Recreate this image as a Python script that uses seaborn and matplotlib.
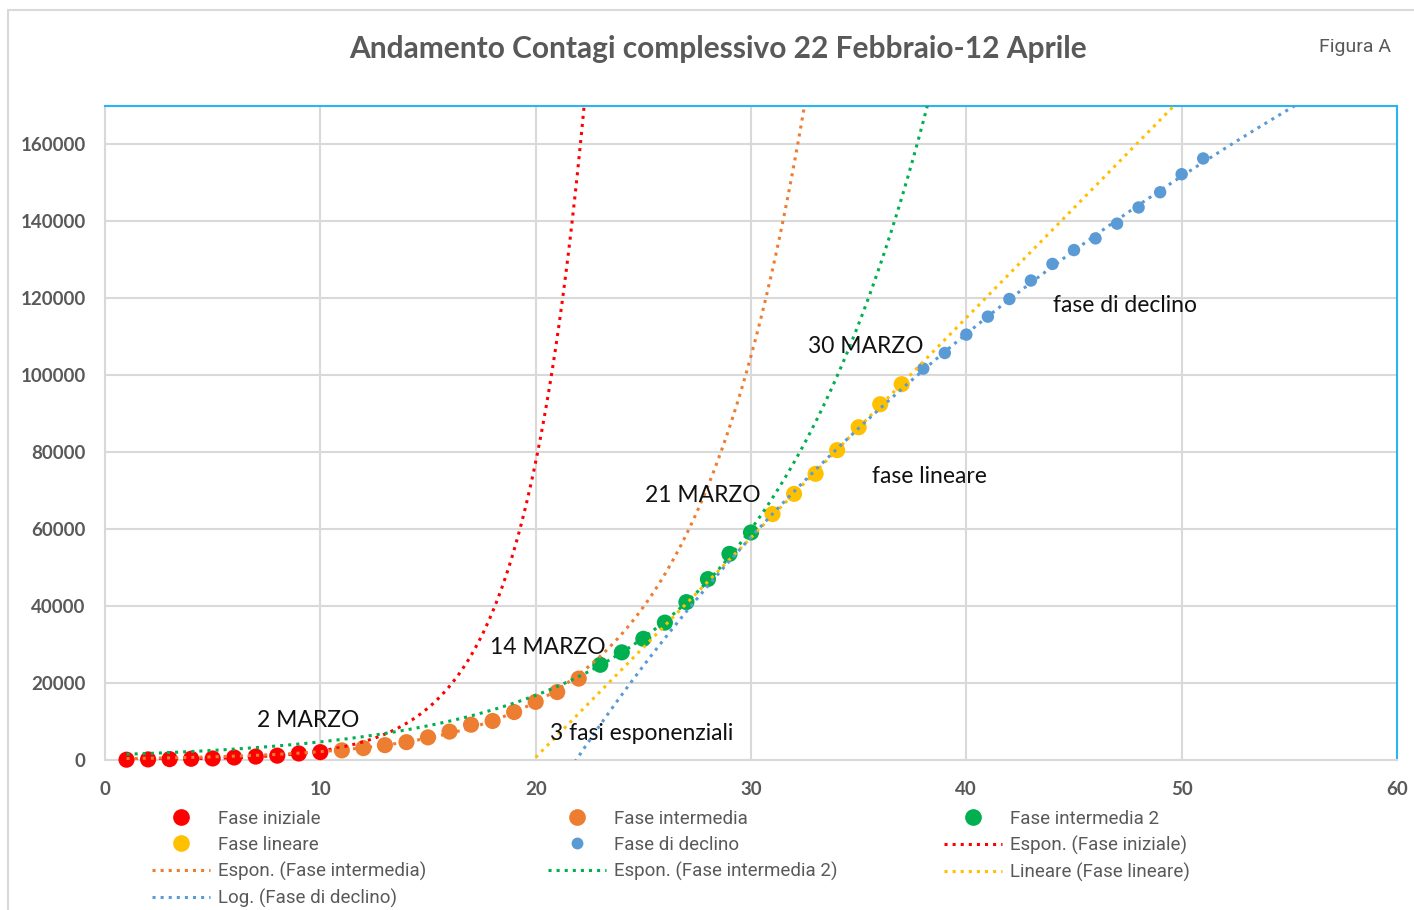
import numpy as np
import pandas as pd
import matplotlib
matplotlib.use('Agg')
import matplotlib.pyplot as plt
import seaborn as sns
from matplotlib.lines import Line2D
from matplotlib.patches import Rectangle

# Contagi cumulativi, giorno 1 = 22 febbraio
giorni_iniziale = [1, 2, 3, 4, 5, 6, 7, 8, 9, 10]
contagi_iniziale = [79, 152, 229, 322, 400, 650, 888, 1128, 1694, 2036]

giorni_intermedia = [11, 12, 13, 14, 15, 16, 17, 18, 19, 20, 21, 22]
contagi_intermedia = [2502, 3089, 3858, 4636, 5883, 7375, 9172, 10149, 12462, 15113, 17660, 21157]

giorni_intermedia2 = [23, 24, 25, 26, 27, 28, 29, 30]
contagi_intermedia2 = [24747, 27980, 31506, 35713, 41035, 47021, 53578, 59138]

giorni_lineare = [31, 32, 33, 34, 35, 36, 37]
contagi_lineare = [63927, 69176, 74386, 80539, 86498, 92472, 97689]

giorni_declino = [38, 39, 40, 41, 42, 43, 44, 45, 46, 47, 48, 49, 50, 51]
contagi_declino = [101739, 105792, 110574, 115242, 119827, 124632, 128948,
                   132547, 135586, 139422, 143626, 147577, 152271, 156363]

fasi = ['Fase iniziale', 'Fase intermedia', 'Fase intermedia 2', 'Fase lineare', 'Fase di declino']
colori = {'Fase iniziale': '#FF0000', 'Fase intermedia': '#ED7D31', 'Fase intermedia 2': '#00B050',
          'Fase lineare': '#FFC000', 'Fase di declino': '#5B9BD5'}

annotazioni = [('2 MARZO', 7.06, 10150), ('14 MARZO', 17.88, 29140), ('21 MARZO', 25.08, 68680),
               ('30 MARZO', 32.65, 107450), ('fase lineare', 35.62, 73630),
               ('fase di declino', 44.02, 118110), ('3 fasi esponenziali', 20.67, 6760)]

df = pd.concat([
    pd.DataFrame({'Giorno': giorni_iniziale, 'Contagi': contagi_iniziale, 'Fase': 'Fase iniziale'}),
    pd.DataFrame({'Giorno': giorni_intermedia, 'Contagi': contagi_intermedia, 'Fase': 'Fase intermedia'}),
    pd.DataFrame({'Giorno': giorni_intermedia2, 'Contagi': contagi_intermedia2, 'Fase': 'Fase intermedia 2'}),
    pd.DataFrame({'Giorno': giorni_lineare, 'Contagi': contagi_lineare, 'Fase': 'Fase lineare'}),
    pd.DataFrame({'Giorno': giorni_declino, 'Contagi': contagi_declino, 'Fase': 'Fase di declino'}),
], ignore_index=True)

sns.set_style('white')
plt.rcParams['font.family'] = ['Lato', 'DejaVu Sans']

fig = plt.figure(figsize=(14.14, 9.10), dpi=100)
ax = fig.add_axes([105 / 1414, 150 / 910, 1292 / 1414, 654 / 910])

# bordo esterno del grafico
fig.patches.append(Rectangle((8 / 1414, -0.05), 1.2, 0.05 + 1 - 10 / 910, transform=fig.transFigure,
                             fill=False, edgecolor='#d9d9d9', linewidth=1.5))

# punti
for fase in fasi:
    sub = df[df['Fase'] == fase]
    size = 80 if fase == 'Fase di declino' else 135
    sns.scatterplot(data=sub, x='Giorno', y='Contagi', color=colori[fase], s=size,
                    edgecolor='none', ax=ax, clip_on=False, zorder=3)

# linee di tendenza (stesse regressioni di Excel)
def espon(x, y, xs):
    b, a = np.polyfit(x, np.log(y), 1)
    return np.exp(a + b * xs)

xs = np.linspace(1, 23, 300)
ax.plot(xs, espon(giorni_iniziale, contagi_iniziale, xs), ':', color=colori['Fase iniziale'], lw=2.2, zorder=4)
xs = np.linspace(1, 34, 300)
ax.plot(xs, espon(giorni_intermedia, contagi_intermedia, xs), ':', color=colori['Fase intermedia'], lw=2.2, zorder=4)
xs = np.linspace(1, 40, 300)
ax.plot(xs, espon(giorni_intermedia2, contagi_intermedia2, xs), ':', color=colori['Fase intermedia 2'], lw=2.2, zorder=4)
xs = np.linspace(15, 55, 300)
m, q = np.polyfit(giorni_lineare, contagi_lineare, 1)
ax.plot(xs, m * xs + q, ':', color=colori['Fase lineare'], lw=2.2, zorder=4)
xs = np.linspace(20, 60, 300)
m, q = np.polyfit(np.log(giorni_declino), contagi_declino, 1)
ax.plot(xs, m * np.log(xs) + q, ':', color=colori['Fase di declino'], lw=2.2, zorder=4)

ax.set_xlim(0, 60)
ax.set_ylim(0, 170000)
ax.set_xticks(range(0, 61, 10))
ax.set_yticks(range(0, 160001, 20000))
ax.grid(True, color='#d9d9d9', linewidth=1.5)
ax.set_axisbelow(True)
ax.tick_params(length=0, labelsize=13.5, labelcolor='#595959')
ax.tick_params(axis='x', pad=15)
ax.tick_params(axis='y', pad=14)
for lab in ax.get_xticklabels() + ax.get_yticklabels():
    lab.set_fontweight('bold')
ax.set_xlabel('')
ax.set_ylabel('')
for s in ['left', 'bottom']:
    ax.spines[s].set_color('#d9d9d9')
    ax.spines[s].set_linewidth(1.5)
for s in ['top', 'right']:
    ax.spines[s].set_color('#29B6F0')
    ax.spines[s].set_linewidth(1.5)

for testo, x, y in annotazioni:
    ax.text(x, y, testo, fontsize=16.5, color='#111111', va='center', ha='left', zorder=5)

fig.text(718 / 1414, 1 - 49 / 910, 'Andamento Contagi complessivo 22 Febbraio-12 Aprile',
         ha='center', va='center', fontsize=21.5, fontweight='bold', color='#595959')
fig.text(1391 / 1414, 1 - 47 / 910, 'Figura A', ha='right', va='center', fontsize=14,
         color='#595959', family=['Roboto', 'DejaVu Sans'])

# legenda su tre colonne
def punto(fase, ms):
    return Line2D([], [], linestyle='none', marker='o', markersize=ms, color=colori[fase])

def linea(fase):
    return Line2D([], [], linestyle=':', lw=2.2, color=colori[fase])

colonne = [
    ([punto('Fase iniziale', 11), punto('Fase lineare', 11), linea('Fase intermedia'), linea('Fase di declino')],
     ['Fase iniziale', 'Fase lineare', 'Espon. (Fase intermedia)', 'Log. (Fase di declino)'], 152),
    ([punto('Fase intermedia', 11), punto('Fase di declino', 7.5), linea('Fase intermedia 2')],
     ['Fase intermedia', 'Fase di declino', 'Espon. (Fase intermedia 2)'], 548),
    ([punto('Fase intermedia 2', 11), linea('Fase iniziale'), linea('Fase lineare')],
     ['Fase intermedia 2', 'Espon. (Fase iniziale)', 'Lineare (Fase lineare)'], 944),
]
for handles, labels, px in colonne:
    leg = fig.legend(handles, labels, loc='upper left', bbox_to_anchor=(px / 1414, 1 - 810 / 910),
                     frameon=False, handlelength=3.1, handletextpad=0.43,
                     labelspacing=0.42, borderpad=0, borderaxespad=0,
                     prop={'family': ['Roboto', 'DejaVu Sans'], 'size': 13.5})
    for t in leg.get_texts():
        t.set_color('#595959')

fig.savefig('out.png', dpi=100)
